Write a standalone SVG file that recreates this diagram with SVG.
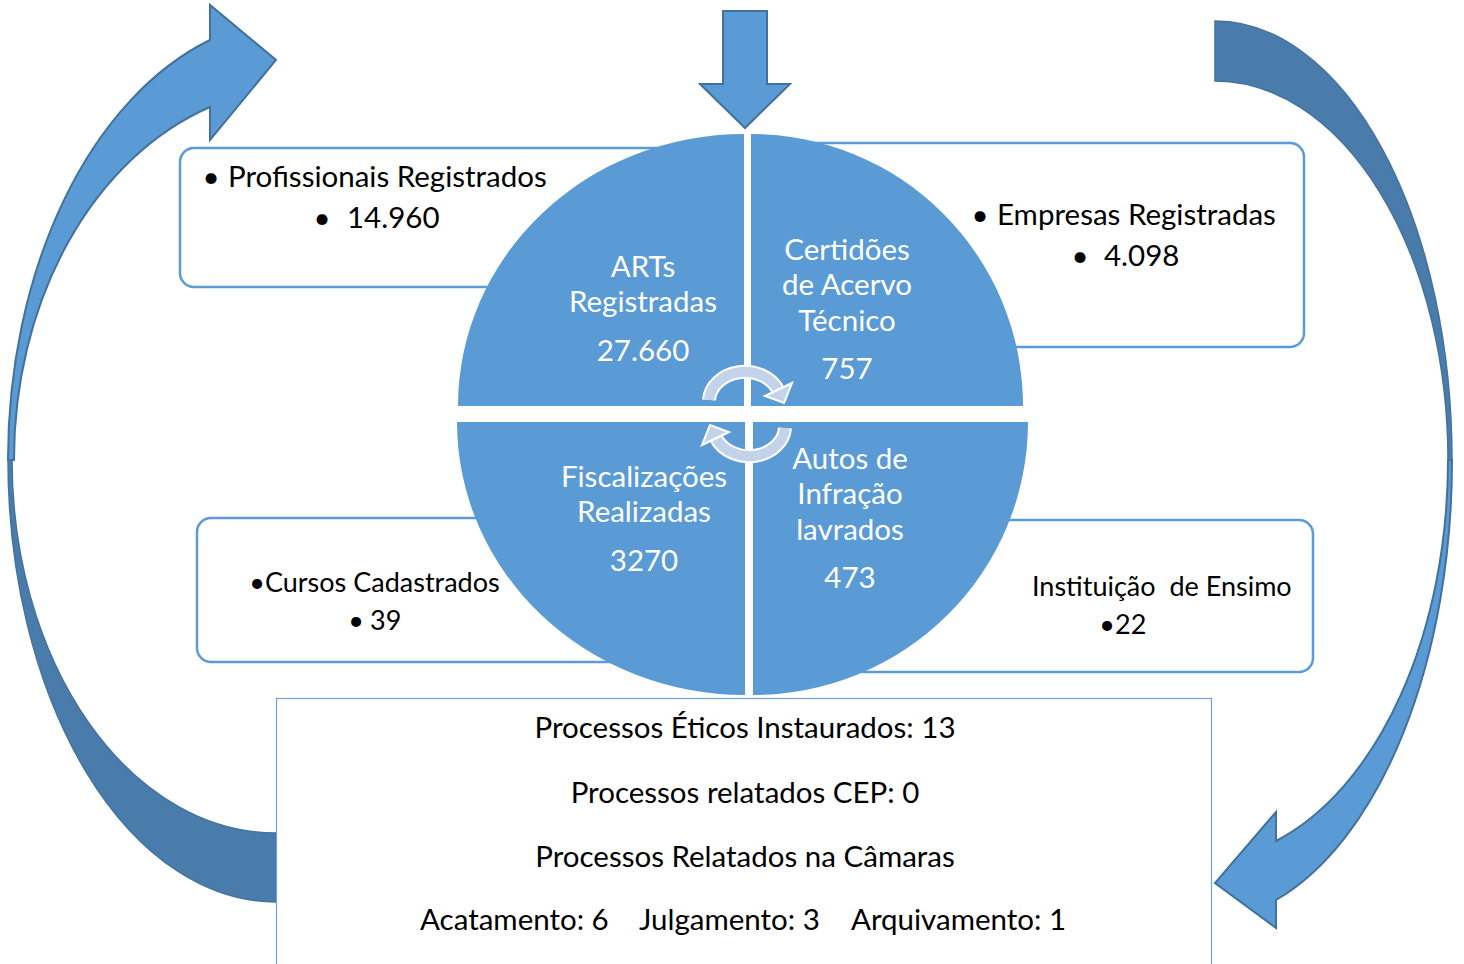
<svg xmlns="http://www.w3.org/2000/svg" width="1464" height="964" viewBox="0 0 1464 964">
<style>
.box{fill:#fff;stroke:#5B9BD5;stroke-width:2.5}
.pie{fill:#5B9BD5}
.light{fill:#5B9BD5;stroke:#41719C;stroke-width:2;stroke-linejoin:miter}
.dark{fill:#497CAB;stroke:#44739F;stroke-width:1.5}
.t{font-family:Lato,"Liberation Sans",sans-serif;font-size:29.5px;fill:#000}
.s{font-size:27px}
.w{fill:#fff;text-anchor:middle}
.m{text-anchor:middle}
.band{fill:none;stroke:#C3D4EA;stroke-width:10}
.bandw{fill:none;stroke:#fff;stroke-width:14}
.head{fill:#C3D4EA;stroke:#fff;stroke-width:2}
</style>
<rect width="1464" height="964" fill="#fff"/>
<g id="connectors">
  <path class="dark" d="M8,460 A268,442 0 0 0 276,902 L276,833 A264,373 0 0 1 12,460 Z"/>
  <path class="light" d="M8,460 A292,441.6 0 0 1 210,40 L210,5 L276,60 L210,140 L210,107 A288,371.6 0 0 0 14,460 Z"/>
  <path class="dark" d="M1215,21 A237,439 0 0 1 1452,460 L1448,460 A233,379 0 0 0 1215,81 Z"/>
  <path class="light" d="M1452,460 A252,461 0 0 1 1276,900 L1276,928 L1215,883 L1276,812 L1276,841 A248,400 0 0 0 1448,460 Z"/>
  <path class="light" d="M723,11 L767,11 L767,84 L790,84 L745,128 L700,84 L723,84 Z"/>
</g>
<g id="box-profissionais">
  <rect class="box" x="180" y="148" width="540" height="139" rx="14"/>
</g>
<g id="box-empresas">
  <rect class="box" x="780" y="143" width="524" height="204" rx="14"/>
</g>
<g id="box-cursos">
  <rect class="box" x="197" y="518" width="450" height="144" rx="14"/>
</g>
<g id="box-instituicao">
  <rect class="box" x="850" y="520" width="463" height="152" rx="14"/>
</g>
<g id="box-processos">
  <rect x="276.5" y="698.5" width="935" height="280" fill="#fff" stroke="#6FA3D8" stroke-width="1.2"/>
</g>
<g id="pie-arts">
  <path class="pie" d="M744,406 L458,406 A286,272 0 0 1 744,134 Z"/>
</g>
<g id="pie-certidoes">
  <path class="pie" d="M751,406 L751,134 A272,272 0 0 1 1023,406 Z"/>
</g>
<g id="pie-fiscalizacoes">
  <path class="pie" d="M745,422 L457,422 A288,273 0 0 0 745,695 Z"/>
</g>
<g id="pie-autos">
  <path class="pie" d="M753,422 L1028,422 A275,273 0 0 1 753,695 Z"/>
</g>
<g id="cycle-arrows">
  <g id="cycle-top">
    <path class="bandw" d="M709,400 A36,30 0 0 1 778,390"/>
    <path class="band" d="M709,400 A36,30 0 0 1 778,390"/>
    <polygon class="head" points="792,383 765,396 784,403"/>
  </g>
  <g id="cycle-bottom" transform="rotate(180 747 414)">
    <path class="bandw" d="M709,400 A36,30 0 0 1 778,390"/>
    <path class="band" d="M709,400 A36,30 0 0 1 778,390"/>
    <polygon class="head" points="792,383 765,396 784,403"/>
  </g>
</g>
<g id="text-arts">
  <text class="t w" x="643" y="277">ARTs</text>
  <text class="t w" x="643" y="312">Registradas</text>
  <text class="t w" x="643" y="361">27.660</text>
</g>
<g id="text-certidoes">
  <text class="t w" x="847" y="260">Certidões</text>
  <text class="t w" x="847" y="295">de Acervo</text>
  <text class="t w" x="847" y="331">Técnico</text>
  <text class="t w" x="847" y="379">757</text>
</g>
<g id="text-fiscalizacoes">
  <text class="t w" x="644" y="487">Fiscalizações</text>
  <text class="t w" x="644" y="522">Realizadas</text>
  <text class="t w" x="644" y="571">3270</text>
</g>
<g id="text-autos">
  <text class="t w" x="850" y="469">Autos de</text>
  <text class="t w" x="850" y="504">Infração</text>
  <text class="t w" x="850" y="540">lavrados</text>
  <text class="t w" x="850" y="588">473</text>
</g>
<g id="text-profissionais">
  <text class="t m" x="211" y="187">•</text>
  <text class="t" x="228" y="187">Profissionais Registrados</text>
  <text class="t m" x="322" y="228">•</text>
  <text class="t" x="347" y="228">14.960</text>
</g>
<g id="text-empresas">
  <text class="t m" x="980" y="225">•</text>
  <text class="t" x="997" y="225">Empresas Registradas</text>
  <text class="t m" x="1080" y="266">•</text>
  <text class="t" x="1104" y="266">4.098</text>
</g>
<g id="text-cursos">
  <text class="t s m" x="257" y="592">•</text>
  <text class="t s" x="265" y="592">Cursos Cadastrados</text>
  <text class="t s m" x="356" y="630">•</text>
  <text class="t s" x="370" y="630">39</text>
</g>
<g id="text-instituicao">
  <text class="t s" x="1032" y="596" xml:space="preserve">Instituição  de Ensimo</text>
  <text class="t s m" x="1107" y="634">•</text>
  <text class="t s" x="1115" y="634">22</text>
</g>
<g id="text-processos">
  <text class="t m" x="745" y="738">Processos Éticos Instaurados: 13</text>
  <text class="t m" x="745" y="803">Processos relatados CEP: 0</text>
  <text class="t m" x="745" y="867">Processos Relatados na Câmaras</text>
  <text class="t" x="420" y="930">Acatamento: 6</text>
  <text class="t" x="639" y="930">Julgamento: 3</text>
  <text class="t" x="851" y="930">Arquivamento: 1</text>
</g>
</svg>
